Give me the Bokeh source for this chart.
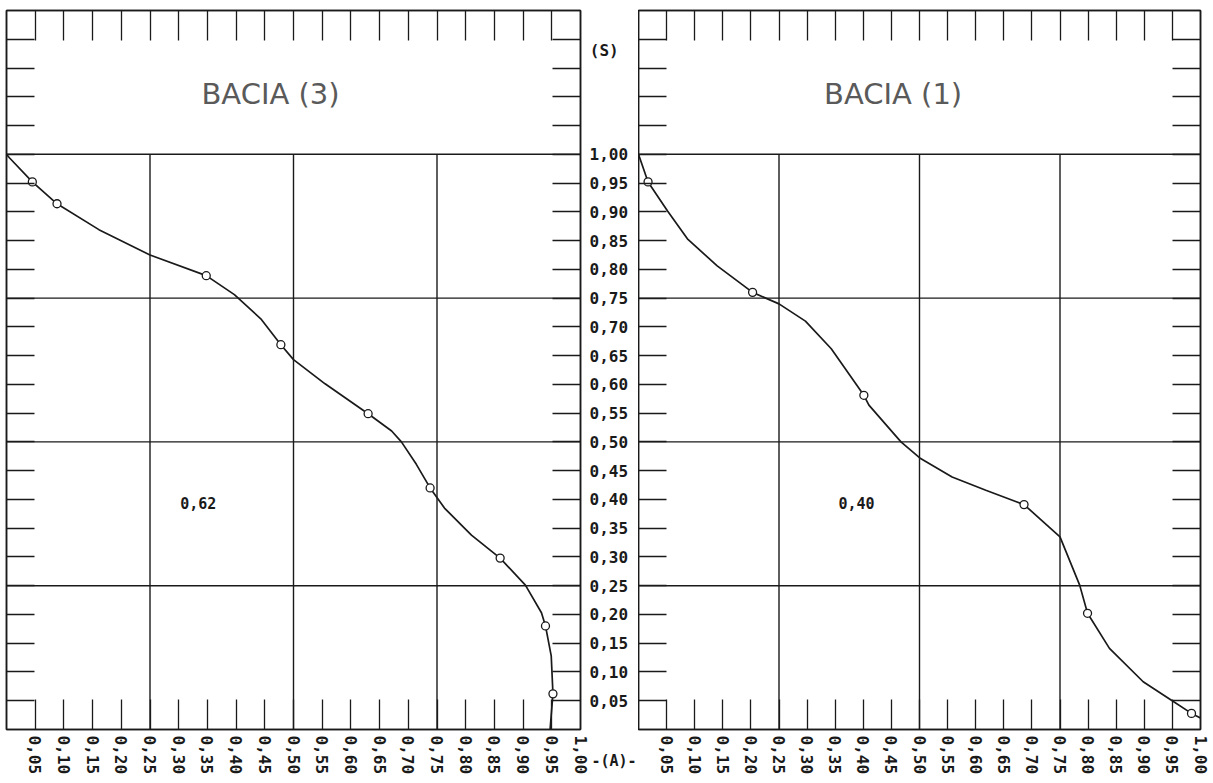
from bokeh.plotting import figure
from bokeh.layouts import row
from bokeh.models import Range1d, LinearAxis, FixedTicker, ColumnDataSource
from bokeh.core.properties import value
from bokeh.embed import file_html
from bokeh.resources import INLINE

# ---------------- data ----------------
# tick values / labels
area_ticks = [round(0.05 * i, 2) for i in range(1, 21)]
area_labels = ["0,05", "0,10", "0,15", "0,20", "0,25", "0,30", "0,35", "0,40", "0,45", "0,50",
               "0,55", "0,60", "0,65", "0,70", "0,75", "0,80", "0,85", "0,90", "0,95", "1,00"]
area_marks = [round(0.05 * i, 2) for i in range(1, 20)]
height_ticks = [round(0.05 * i, 2) for i in range(1, 21)]
height_labels = ["0,05", "0,10", "0,15", "0,20", "0,25", "0,30", "0,35", "0,40", "0,45", "0,50",
                 "0,55", "0,60", "0,65", "0,70", "0,75", "0,80", "0,85", "0,90", "0,95", "1,00"]
height_marks = [round(0.05 * i, 2) for i in range(1, 25)]
grid_values = [0.25, 0.5, 0.75]
hgrid_values = [0.25, 0.5, 0.75, 1.0]
height_name = "(S)"
area_name = "-(A)-"

# BACIA (3) hypsometric curve (relative area a, relative height h)
b3_curve_a = [0.0, 0.005, 0.045, 0.088, 0.161, 0.25, 0.348, 0.397, 0.443, 0.478, 0.5, 0.555,
              0.630, 0.671, 0.688, 0.714, 0.738, 0.763, 0.810, 0.860, 0.904, 0.932, 0.939,
              0.949, 0.952, 0.947]
b3_curve_h = [1.0, 0.994, 0.952, 0.914, 0.869, 0.825, 0.789, 0.756, 0.714, 0.669, 0.643, 0.601,
              0.549, 0.519, 0.500, 0.461, 0.420, 0.385, 0.338, 0.298, 0.251, 0.203, 0.180,
              0.128, 0.062, 0.0]
b3_pts_a = [0.045, 0.088, 0.348, 0.478, 0.630, 0.738, 0.860, 0.939, 0.952]
b3_pts_h = [0.952, 0.914, 0.789, 0.669, 0.549, 0.420, 0.298, 0.180, 0.062]
b3_index = "0,62"

# BACIA (1)
b1_curve_a = [0.0, 0.017, 0.052, 0.087, 0.140, 0.203, 0.25, 0.297, 0.343, 0.401, 0.41, 0.467,
              0.502, 0.558, 0.618, 0.686, 0.75, 0.785, 0.799, 0.838, 0.898, 0.951, 0.984, 1.0]
b1_curve_h = [1.0, 0.952, 0.901, 0.853, 0.806, 0.760, 0.740, 0.710, 0.662, 0.581, 0.564, 0.500,
              0.471, 0.439, 0.416, 0.391, 0.335, 0.251, 0.202, 0.141, 0.083, 0.049, 0.028, 0.020]
b1_pts_a = [0.017, 0.203, 0.401, 0.686, 0.799, 0.984]
b1_pts_h = [0.952, 0.760, 0.581, 0.391, 0.202, 0.028]
b1_index = "0,40"

MONO = "DejaVu Sans Mono"
INK = "#1a1a1a"
FRAME_H = 719
BOTTOM = 44
TOP = 10
Y_MAX = 1.25


def style_axis(axis, length):
    axis.major_tick_out = 0
    axis.minor_tick_out = 0
    axis.major_tick_in = 0
    axis.minor_tick_in = length
    axis.major_tick_line_color = INK
    axis.minor_tick_line_color = INK
    axis.minor_tick_line_width = 1.3
    axis.axis_line_color = INK
    axis.axis_line_width = 1.5
    axis.major_label_text_font = MONO
    axis.major_label_text_font_style = "bold"
    axis.major_label_text_font_size = "16px"
    axis.major_label_text_color = INK


def marks_only(axis, marks, length):
    # tick marks drawn as minor ticks: no labels at all
    axis.ticker = FixedTicker(ticks=[], minor_ticks=marks)
    style_axis(axis, length)
    axis.major_label_standoff = 0


def make_panel(frame_w, curve_a, curve_h, pts_a, pts_h, title, title_x, index, index_x,
               border_left, border_right):
    p = figure(frame_width=frame_w, frame_height=FRAME_H,
               x_range=Range1d(0, 1), y_range=Range1d(0, Y_MAX),
               output_backend="svg", toolbar_location=None,
               min_border_left=border_left, min_border_right=border_right,
               min_border_top=TOP, min_border_bottom=BOTTOM)
    p.xgrid.visible = False
    p.ygrid.visible = False
    p.outline_line_color = INK
    p.outline_line_width = 1.5
    p.background_fill_color = "white"
    p.border_fill_color = "white"

    # bottom axis: tick marks + rotated labels
    xa = p.xaxis[0]
    xa.ticker = FixedTicker(ticks=area_ticks, minor_ticks=area_marks)
    style_axis(xa, 30)
    xa.major_label_overrides = dict(zip(area_ticks, area_labels))
    xa.major_label_orientation = "vertical"
    xa.major_label_standoff = 6
    # left axis: tick marks only
    marks_only(p.yaxis[0], height_marks, 28)
    # top axis: tick marks only
    top = LinearAxis()
    marks_only(top, area_marks, 30)
    p.add_layout(top, "above")
    # right axis: tick marks only
    ra = LinearAxis()
    marks_only(ra, height_marks, 28)
    p.add_layout(ra, "right")

    # grid lines inside the 0..1 square
    vsrc = ColumnDataSource(dict(x=grid_values, y0=[0] * len(grid_values), y1=[1] * len(grid_values)))
    p.segment(x0="x", y0="y0", x1="x", y1="y1", source=vsrc, line_color=INK, line_width=1.4)
    hsrc = ColumnDataSource(dict(y=hgrid_values, x0=[0] * len(hgrid_values), x1=[1] * len(hgrid_values)))
    p.segment(x0="x0", y0="y", x1="x1", y1="y", source=hsrc, line_color=INK, line_width=1.4)

    # curve and observed points
    p.line(curve_a, curve_h, line_color=INK, line_width=1.7)
    p.scatter(pts_a, pts_h, marker="circle", size=8, fill_color="white",
              line_color=INK, line_width=1.3)

    p.text(x=[title_x], y=[1.104], text=[title], text_align="center", text_baseline="middle",
           text_font=value("DejaVu Sans"), text_font_size="29px", text_color="#5a5a5a")
    p.text(x=[index_x], y=[0.394], text=[index], text_align="center", text_baseline="middle",
           text_font=value(MONO), text_font_style="bold", text_font_size="15px", text_color=INK)
    return p


left = make_panel(574, b3_curve_a, b3_curve_h, b3_pts_a, b3_pts_h, "BACIA (3)", 0.46,
                  b3_index, 0.334, 6, 9)
right = make_panel(562, b1_curve_a, b1_curve_h, b1_pts_a, b1_pts_h, "BACIA (1)", 0.453,
                   b1_index, 0.388, 0, 9)

# center column: shared height scale between the two panels
unit_px = FRAME_H / Y_MAX
center = figure(frame_width=49, frame_height=FRAME_H + BOTTOM,
                x_range=Range1d(0, 1), y_range=Range1d(-BOTTOM / unit_px, Y_MAX),
                output_backend="svg", toolbar_location=None,
                x_axis_type=None, y_axis_type=None,
                min_border_left=0, min_border_right=0, min_border_top=TOP, min_border_bottom=0)
center.xgrid.visible = False
center.ygrid.visible = False
center.outline_line_color = None
csrc = ColumnDataSource(dict(y=height_ticks, t=height_labels))
center.text(x=0.0, y="y", text="t", source=csrc, text_align="left", text_baseline="middle",
            text_font=value(MONO), text_font_style="bold", text_font_size="16px", text_color=INK)
center.text(x=[0.3], y=[1.18], text=[height_name], text_align="center", text_baseline="middle",
            text_font=value(MONO), text_font_style="bold", text_font_size="16px", text_color=INK)
center.text(x=[0.5], y=[-0.055], text=[area_name], text_align="center", text_baseline="middle",
            text_font=value(MONO), text_font_style="bold", text_font_size="15px", text_color=INK)

layout = row(left, center, right)
open("out.html", "w").write(file_html(layout, INLINE))
